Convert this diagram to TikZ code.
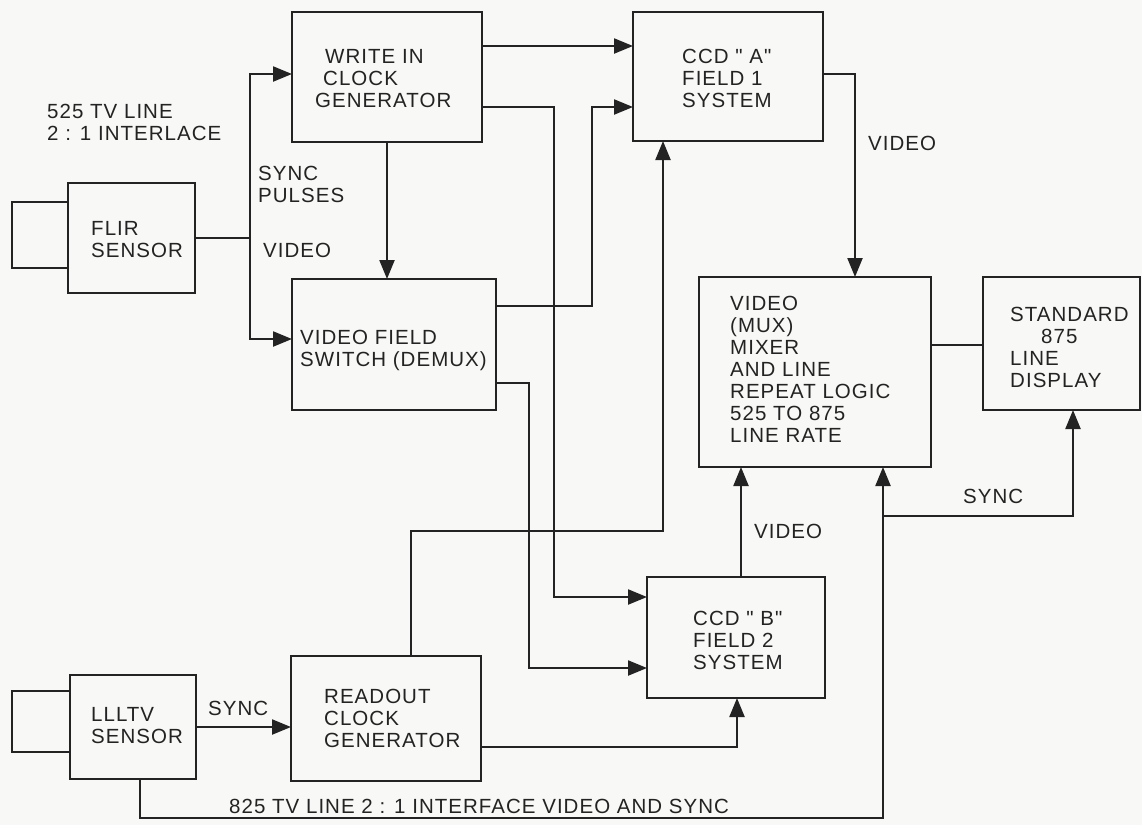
\documentclass[tikz,border=0pt]{standalone}
\usepackage{fontspec}
\setmainfont{Liberation Sans}[LetterSpace=5,Ligatures=TeXOff]
\usetikzlibrary{arrows.meta,calc}
\definecolor{ink}{RGB}{35,35,35}
\definecolor{paper}{RGB}{248,248,246}
\newcommand\mlines[1]{\begin{tabular}[t]{@{}l@{}}#1\end{tabular}}
\begin{document}
\begin{tikzpicture}[x=1pt,y=-1pt,
  font=\fontsize{20.5}{22}\selectfont,
  blk/.style={draw=ink,line width=2.5pt,inner sep=0pt,outer sep=0pt},
  arr/.style={draw=ink,line width=2.2pt,-{Triangle[length=19pt,width=15pt]}},
  wire/.style={draw=ink,line width=2.2pt},
  txt/.style={anchor=base west,inner sep=0pt,text=ink}]
\fill[paper] (0,0) rectangle (1142,825);
\useasboundingbox (0,0) rectangle (1142,825);

% boxes
\node[blk,minimum width=56pt,minimum height=66pt] (flirlens) at (40,235) {};
\node[blk,minimum width=127pt,minimum height=110pt] (flir) at (131.5,238) {};
\node[blk,minimum width=190pt,minimum height=130pt] (wr) at (387,77) {};
\node[blk,minimum width=190pt,minimum height=129pt] (ccda) at (728,76.5) {};
\node[blk,minimum width=204pt,minimum height=131pt] (sw) at (394,344.5) {};
\node[blk,minimum width=232pt,minimum height=190pt] (mix) at (815,372) {};
\node[blk,minimum width=157pt,minimum height=133pt] (disp) at (1061.5,343.5) {};
\node[blk,minimum width=178pt,minimum height=121pt] (ccdb) at (736,637.5) {};
\node[blk,minimum width=58pt,minimum height=61pt] (lllens) at (41,721.5) {};
\node[blk,minimum width=126pt,minimum height=104pt] (llltv) at (133,727) {};
\node[blk,minimum width=190pt,minimum height=125pt] (ro) at (386,718.5) {};

% box texts
\node[txt] (tflir) at (91,235) {\mlines{FLIR\\SENSOR}};
\node[txt] (twr) at (315,63) {\mlines{\hspace*{10pt}WRITE IN\\\hspace*{8pt}CLOCK\\GENERATOR}};
\node[txt] (tca) at (682,63) {\mlines{CCD " A"\\FIELD 1\\SYSTEM}};
\node[txt] (tsw) at (300,344) {\mlines{VIDEO FIELD\\SWITCH (DEMUX)}};
\node[txt] (tmix) at (730,310) {\mlines{VIDEO\\(MUX)\\MIXER\\AND LINE\\REPEAT LOGIC\\525 TO 875\\LINE RATE}};
\node[txt] (tdisp) at (1010,321) {\mlines{STANDARD\\\hspace*{31pt}875\\LINE\\DISPLAY}};
\node[txt] (tcb) at (693,625) {\mlines{CCD " B"\\FIELD 2\\SYSTEM}};
\node[txt] (tll) at (91,721) {\mlines{LLLTV\\SENSOR}};
\node[txt] (tro) at (324,703) {\mlines{READOUT\\CLOCK\\GENERATOR}};

% labels
\node[txt] (t525) at (47,118) {\mlines{525 TV LINE\\2 : 1 INTERLACE}};
\node[txt] (tsp) at (258,180) {\mlines{SYNC\\PULSES}};
\node[txt] (tv1) at (263,257) {VIDEO};
\node[txt] (tv2) at (868,150) {VIDEO};
\node[txt] (tv3) at (754,538) {VIDEO};
\node[txt] (tsy2) at (963,503) {SYNC};
\node[txt] (tsy1) at (208,715) {SYNC};
\node[txt] (tbot) at (229,813) {825 TV LINE 2 : 1 INTERFACE VIDEO AND SYNC};

% connectors
\coordinate (j1) at (250,238);
\draw[wire] (flir.east) -- (j1);
\draw[arr] (j1) |- ([yshift=3pt]wr.west);
\draw[arr] (j1) |- ([yshift=5.5pt]sw.west);
\draw[arr] (wr.south) -- (wr.south |- sw.north);

\coordinate (w1) at ([yshift=31pt]wr.east);
\draw[arr] (w1) -- (w1 -| ccda.west);
\coordinate (w2) at ([yshift=-30pt]wr.east);
\coordinate (b1) at ([yshift=40.5pt]ccdb.west);
\draw[arr] (w2) -- +(72,0) |- (b1);

\coordinate (s1) at ([yshift=38.5pt]sw.east);
\coordinate (a2) at ([yshift=-30.5pt]ccda.west);
\draw[arr] (s1) -- +(96,0) |- (a2);
\coordinate (s2) at ([yshift=-38.5pt]sw.east);
\coordinate (b2) at ([yshift=-30.5pt]ccdb.west);
\draw[arr] (s2) -- +(33,0) |- (b2);

\coordinate (r1) at ([xshift=25pt]ro.north);
\coordinate (a3) at ([xshift=-65pt]ccda.south);
\draw[arr] (r1) -- +(0,-125) -| (a3);
\coordinate (r2) at ([yshift=-28.5pt]ro.east);
\coordinate (b3) at ([xshift=1pt]ccdb.south);
\draw[arr] (r2) -| (b3);

\draw[arr] (llltv.east) -- (llltv.east -| ro.west);

\coordinate (l1) at ([xshift=7pt]llltv.south);
\coordinate (m1) at ([xshift=68pt]mix.south);
\draw[arr] (l1) -- +(0,39) -| (m1);
\coordinate (j2) at (883,516);
\coordinate (d1) at ([xshift=11.5pt]disp.south);
\draw[arr] (j2) -| (d1);

\coordinate (b4) at ([xshift=5pt]ccdb.north);
\draw[arr] (b4) -- (b4 |- mix.south);

\coordinate (a4) at ([yshift=2.5pt]ccda.east);
\coordinate (m2) at ([xshift=40pt]mix.north);
\draw[arr] (a4) -| (m2);

\coordinate (d2) at ([yshift=-1.5pt]disp.west);
\draw[wire] (d2 -| mix.east) -- (d2);
\end{tikzpicture}
\end{document}
